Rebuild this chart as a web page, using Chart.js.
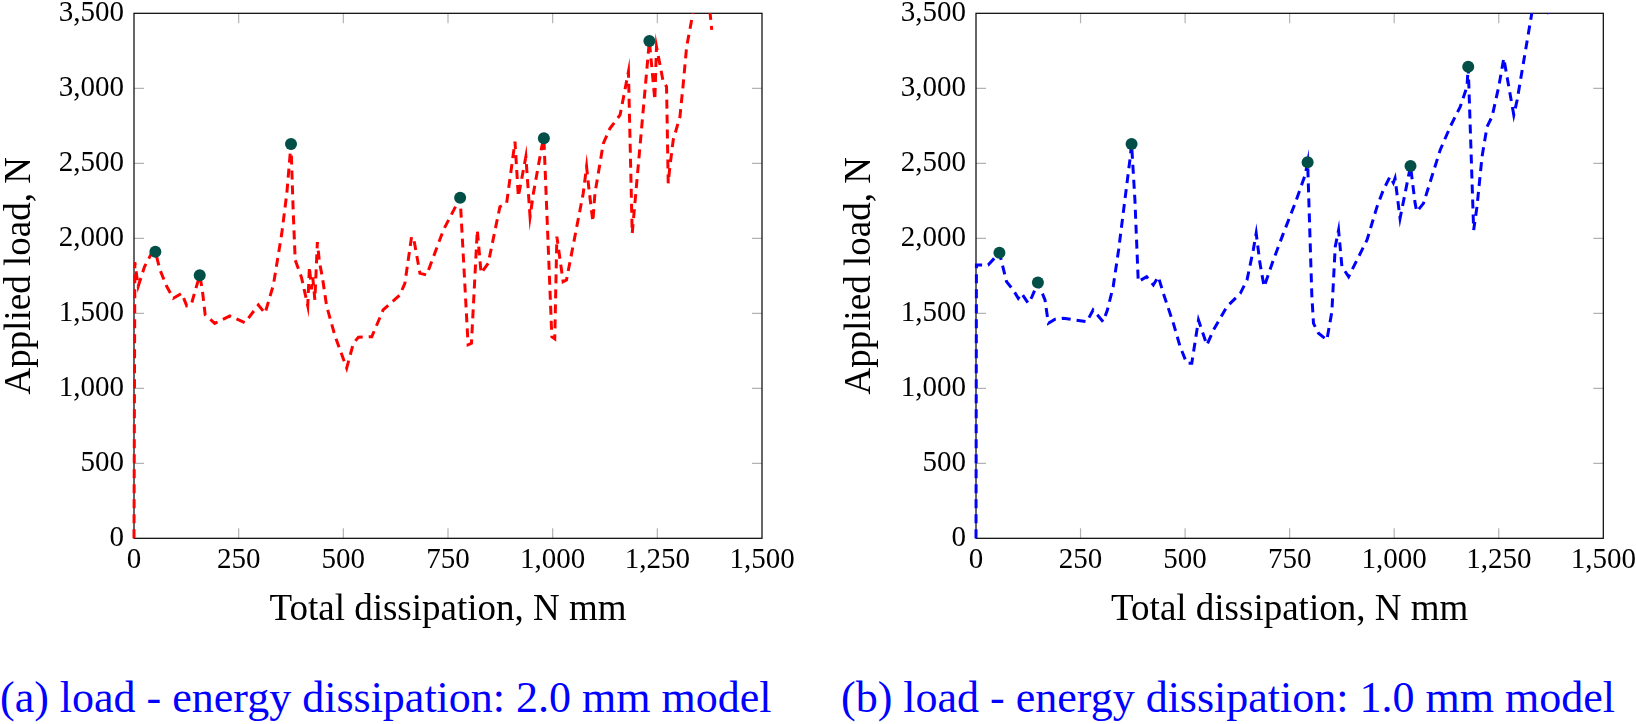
<!DOCTYPE html>
<html>
<head>
<meta charset="utf-8">
<script src="https://cdn.jsdelivr.net/npm/chart.js@4.4.1/dist/chart.umd.min.js"></script>
<style>
  html, body { margin: 0; padding: 0; background: #fff; }
  #page { position: relative; width: 1636px; height: 724px; overflow: hidden; }
  canvas { position: absolute; top: 0; }
  .caption {
    position: absolute; top: 676px; margin: 0;
    font: 44px/44px "Liberation Serif", serif; color: #0000ff; white-space: nowrap;
  }
</style>
</head>
<body>
<div id="page">
  <canvas id="chart-a" width="818" height="640" style="left:0"></canvas>
  <canvas id="chart-b" width="794" height="640" style="left:842px"></canvas>
  <p class="caption" style="left:0">(a) load - energy dissipation: 2.0 mm model</p>
  <p class="caption" style="left:841px">(b) load - energy dissipation: 1.0 mm model</p>
</div>
<script>
// 2.0 mm model: total dissipation (N mm) vs applied load (N)
const dissA = [0, 2, 10, 25, 40, 51, 62, 78, 94, 114, 126, 137, 145, 157, 163, 170, 193, 229, 265, 297,
  313, 333, 353, 365, 375, 380, 385, 400, 408, 415, 419, 424, 427, 432, 438, 443, 450, 460, 480, 508,
  524, 536, 568, 595, 635, 647, 663, 668, 683, 699, 739, 779, 798, 806, 820, 829, 846, 874, 890, 910,
  918, 936, 946, 954, 974, 979, 998, 1005, 1010, 1025, 1033, 1073, 1081, 1086, 1096, 1101, 1121, 1137, 1161, 1181,
  1190, 1231, 1244, 1248, 1264, 1272, 1276, 1280, 1288, 1304, 1312, 1320, 1335, 1355, 1376, 1380];
const loadA = [0, 1840, 1680, 1810, 1890, 1911, 1790, 1680, 1600, 1633, 1550, 1560, 1640, 1753, 1660, 1490, 1433, 1482, 1437, 1555,
  1500, 1690, 2033, 2300, 2628, 2200, 1855, 1740, 1640, 1550, 1810, 1660, 1740, 1590, 1975, 1840, 1740, 1550, 1350, 1135,
  1300, 1340, 1344, 1522, 1622, 1700, 2011, 2000, 1767, 1755, 2055, 2271, 1290, 1300, 2055, 1767, 1833, 2211, 2233, 2644,
  2277, 2544, 2144, 2300, 2611, 2667, 1344, 1330, 2011, 1711, 1722, 2300, 2478, 2344, 2111, 2300, 2633, 2733, 2822, 3111,
  2033, 3315, 2922, 3278, 3044, 3011, 2367, 2478, 2656, 2811, 3033, 3278, 3500, 3800, 3500, 3390];
const peakDissA = [51, 157, 375, 779, 979, 1231];
const peakLoadA = [1911, 1753, 2628, 2271, 2667, 3315];

// 1.0 mm model
const dissB = [0, 1, 29, 56, 73, 89, 101, 109, 125, 134, 148, 165, 173, 189, 209, 265, 280, 304, 314, 328,
  341, 356, 368, 372, 380, 388, 408, 424, 436, 448, 472, 488, 504, 516, 532, 552, 568, 600, 632, 648,
  663, 670, 679, 689, 711, 735, 763, 787, 793, 803, 807, 819, 839, 851, 859, 867, 875, 891, 935, 959,
  974, 990, 998, 1002, 1014, 1039, 1050, 1054, 1070, 1110, 1134, 1158, 1174, 1177, 1190, 1198, 1210, 1222, 1234, 1250,
  1262, 1286, 1294, 1329, 1350, 1369, 1373];
const loadB = [0, 1822, 1822, 1904, 1711, 1656, 1600, 1633, 1567, 1611, 1706, 1589, 1433, 1460, 1467, 1444, 1522, 1444, 1520, 1677,
  1922, 2256, 2522, 2628, 2256, 1711, 1744, 1689, 1744, 1633, 1433, 1278, 1167, 1167, 1455, 1289, 1389, 1544, 1633, 1722,
  1922, 2033, 1833, 1677, 1855, 2033, 2233, 2422, 2507, 1622, 1433, 1367, 1322, 1511, 1944, 2055, 1811, 1744, 1989, 2211,
  2322, 2411, 2370, 2400, 2133, 2482, 2233, 2178, 2233, 2589, 2744, 2878, 3011, 3144, 2055, 2211, 2544, 2744, 2811, 3011,
  3200, 2822, 2922, 3500, 3750, 3500, 3467];
const peakDissB = [56, 148, 372, 793, 1039, 1177];
const peakLoadB = [1904, 1706, 2628, 2507, 2482, 3144];

const X_MAX = 1500;
const Y_MAX = 3500;
const FONT = "'Liberation Serif', serif";
const MARKER = "#014f47";

function toPoints(xs, ys) {
  return xs.map((x, i) => ({ x, y: ys[i] }));
}

function fmt(v) {
  return Number(v).toLocaleString("en-US");
}

// pgfplots-like frame: black box, grey ticks pointing inward on all sides
const framePlugin = {
  id: "frame",
  beforeDatasetsDraw(chart) {
    const { ctx, chartArea: a, scales } = chart;
    const len = 10;
    ctx.save();
    ctx.strokeStyle = "#b3b3b3";
    ctx.lineWidth = 1.2;
    ctx.beginPath();
    scales.x.ticks.forEach((t) => {
      const px = scales.x.getPixelForValue(t.value);
      if (px <= a.left + 1 || px >= a.right - 1) return;
      ctx.moveTo(px, a.bottom);
      ctx.lineTo(px, a.bottom - len);
      ctx.moveTo(px, a.top);
      ctx.lineTo(px, a.top + len);
    });
    scales.y.ticks.forEach((t) => {
      const py = scales.y.getPixelForValue(t.value);
      if (py <= a.top + 1 || py >= a.bottom - 1) return;
      ctx.moveTo(a.left, py);
      ctx.lineTo(a.left + len, py);
      ctx.moveTo(a.right, py);
      ctx.lineTo(a.right - len, py);
    });
    ctx.stroke();
    ctx.strokeStyle = "#000";
    ctx.strokeRect(a.left, a.top, a.right - a.left, a.bottom - a.top);
    ctx.restore();
  },
};

function makeChart(canvasId, xs, ys, peakX, peakY, color, rightPad, yTitlePad) {
  const canvas = document.getElementById(canvasId);
  return new Chart(canvas.getContext("2d"), {
    type: "scatter",
    data: {
      datasets: [
        {
          data: toPoints(peakX, peakY),
          pointRadius: 6,
          pointHoverRadius: 6,
          pointBackgroundColor: MARKER,
          pointBorderWidth: 0,
          showLine: false,
          clip: false,
        },
        {
          data: toPoints(xs, ys),
          showLine: true,
          borderColor: color,
          borderWidth: 3,
          borderDash: [9, 6],
          tension: 0,
          pointRadius: 0,
          pointHoverRadius: 0,
          fill: false,
          clip: { left: 2, top: 0, right: 0, bottom: 2 },
        },
      ],
    },
    options: {
      responsive: false,
      animation: false,
      events: [],
      layout: { padding: { left: 0, top: 13.3, right: rightPad, bottom: 0 } },
      plugins: { legend: { display: false }, tooltip: { enabled: false } },
      scales: {
        x: {
          type: "linear",
          min: 0,
          max: X_MAX,
          grid: { display: false, drawTicks: false },
          border: { display: false },
          ticks: {
            stepSize: 250,
            autoSkip: false,
            maxRotation: 0,
            padding: 5,
            color: "#000",
            font: { family: FONT, size: 29 },
            callback: fmt,
          },
          title: {
            display: true,
            text: "Total dissipation, N mm",
            color: "#000",
            font: { family: FONT, size: 37, lineHeight: 1 },
            padding: { top: 0, bottom: 11 },
          },
          afterFit(scale) {
            scale.height = 101.7;
            scale.paddingLeft = 0;
            scale.paddingRight = 0;
          },
        },
        y: {
          type: "linear",
          min: 0,
          max: Y_MAX,
          grid: { display: false, drawTicks: false },
          border: { display: false },
          ticks: {
            stepSize: 500,
            autoSkip: false,
            padding: 10,
            color: "#000",
            font: { family: FONT, size: 29 },
            callback: fmt,
          },
          title: {
            display: true,
            text: "Applied load, N",
            color: "#000",
            font: { family: FONT, size: 37, lineHeight: 1 },
            padding: { top: yTitlePad, bottom: 0 },
          },
          afterFit(scale) {
            scale.width = 134;
            scale.paddingTop = 0;
            scale.paddingBottom = 0;
          },
        },
      },
    },
    plugins: [framePlugin],
  });
}

makeChart("chart-a", dissA, loadA, peakDissA, peakLoadA, "#ff0000", 56, 1.5);
makeChart("chart-b", dissB, loadB, peakDissB, peakLoadB, "#0000ff", 32.7, 0);
</script>
</body>
</html>
